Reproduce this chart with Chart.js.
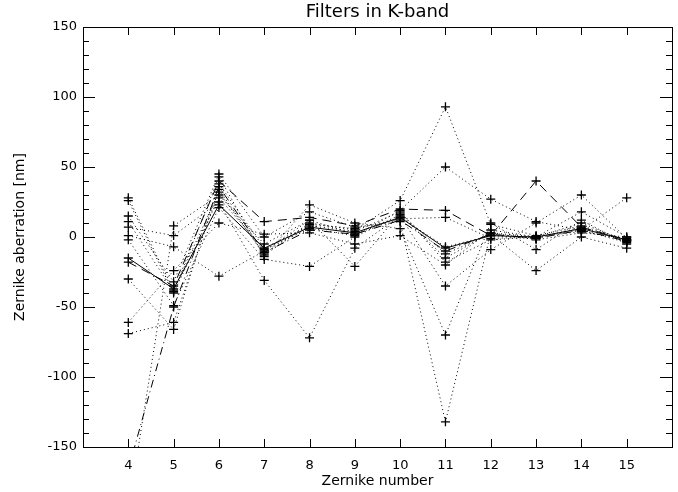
<!DOCTYPE html>
<html>
<head>
<meta charset="utf-8">
<script src="https://cdn.jsdelivr.net/npm/chart.js@4.4.1/dist/chart.umd.min.js"></script>
<style>
  html, body { margin: 0; padding: 0; background: #fff; }
  #wrap { width: 678px; height: 492px; }
</style>
</head>
<body>
<div id="wrap"><canvas id="chart" width="678" height="492"></canvas></div>
<script>
// Zernike numbers on the x axis
const zernike = [4, 5, 6, 7, 8, 9, 10, 11, 12, 13, 14, 15];
const xTickLabels = ['4', '5', '6', '7', '8', '9', '10', '11', '12', '13', '14', '15'];
const yTickValues = [-150, -100, -50, 0, 50, 100, 150];

// aberration per filter [nm], one array per filter, in order of zernike
const solidFilter   = [-15, -37, 23, -8, 7, 3, 14, -8, 1, 0, 6, -2];
const dashedFilter  = [-18, -35, 40, 11, 14, 8, 20, 19, 1, 40, 7, -2];
const dashDotFilter = [-166, -50, 36, -11, 5, 2, 12, -10, 2, -1, 5, -3];

const dotted1  = [28, -38, 32, -12, 10, 5, 26, 93, 9, 1, 8, -2];
const dotted2  = [26, -40, 28, -9, 6, 1, 19, 50, 27, 11, 5, -4];
const dotted3  = [15, -32, 45, 0, 18, 7, 11, -132, 3, -2, 3, 0];
const dotted4  = [11, -39, 43, -14, 23, 10, 6, -70, 10, -9, 12, -5];
const dotted5  = [7, 1, 25, -31, -72, -8, 15, -35, -9, 10, 30, -1];
const dotted6  = [1, -7, -28, -10, 12, -21, 17, -12, 2, -24, 0, -8];
const dotted7  = [-2, -49, 21, -16, -21, 0, 16, -15, 3, 0, 18, 0];
const dotted8  = [-30, -66, 38, -8, 8, 4, 18, -18, -2, 0, 5, 28];
const dotted9  = [-61, -24, 10, 2, 3, -5, 1, -20, 5, 0, 10, -3];
const dotted10 = [-69, -61, 34, -13, 9, 6, 13, 14, -1, 0, 4, -2];
const dotted11 = [-195, 8, 30, -5, 12, 2, 14, -7, 1, -1, 7, -3];

const FONT = 'DejaVu Sans';

function filterSet(values, dash) {
    return {
        data: zernike.map((n, i) => ({ x: n, y: values[i] })),
        xAxisID: 'x',
        yAxisID: 'y',
        borderColor: '#000',
        backgroundColor: '#000',
        borderWidth: 1,
        borderDash: dash,
        pointStyle: 'cross',
        pointRadius: 4.5,
        pointBorderWidth: 1.3,
        pointBorderColor: '#000',
        tension: 0,
        fill: false
    };
}

// IDL style box: frame plus inward ticks on all four sides
const boxAxes = {
    id: 'boxAxes',
    afterDatasetsDraw(chart) {
        const { ctx, chartArea: a, scales: { x, y } } = chart;
        ctx.save();
        ctx.strokeStyle = '#000';
        ctx.lineWidth = 1;
        ctx.beginPath();
        for (let v = -150; v <= 150; v += 10) {
            const py = Math.round(y.getPixelForValue(v)) + 0.5;
            const len = yTickValues.includes(v) ? 12 : 6;
            ctx.moveTo(a.left, py); ctx.lineTo(a.left + len, py);
            ctx.moveTo(a.right, py); ctx.lineTo(a.right - len, py);
        }
        zernike.forEach(n => {
            const px = Math.round(x.getPixelForValue(n)) + 0.5;
            ctx.moveTo(px, a.bottom); ctx.lineTo(px, a.bottom - 8);
            ctx.moveTo(px, a.top); ctx.lineTo(px, a.top + 8);
        });
        ctx.stroke();
        ctx.strokeRect(Math.round(a.left) + 0.5, Math.round(a.top) + 0.5,
            Math.round(a.right - a.left), Math.round(a.bottom - a.top));
        ctx.restore();
    }
};

const ctx = document.getElementById('chart').getContext('2d');
new Chart(ctx, {
    type: 'line',
    data: {
        datasets: [
            filterSet(dotted1, [1, 3]),
            filterSet(dotted2, [1, 3]),
            filterSet(dotted3, [1, 3]),
            filterSet(dotted4, [1, 3]),
            filterSet(dotted5, [1, 3]),
            filterSet(dotted6, [1, 3]),
            filterSet(dotted7, [1, 3]),
            filterSet(dotted8, [1, 3]),
            filterSet(dotted9, [1, 3]),
            filterSet(dotted10, [1, 3]),
            filterSet(dotted11, [1, 3]),
            filterSet(dashDotFilter, [8, 4, 1, 4]),
            filterSet(dashedFilter, [9, 6]),
            filterSet(solidFilter, [])
        ]
    },
    options: {
        responsive: false,
        animation: false,
        devicePixelRatio: 1,
        layout: { padding: 0 },
        plugins: {
            legend: { display: false },
            tooltip: { enabled: false },
            title: { display: false }
        },
        scales: {
            x: {
                type: 'linear',
                position: 'bottom',
                min: 3,
                max: 16,
                afterFit(scale) {
                    scale.height = 45;
                    scale.paddingLeft = 0;
                    scale.paddingRight = 6;
                },
                grid: { display: false, drawTicks: false },
                border: { display: false },
                ticks: {
                    stepSize: 1,
                    color: '#000',
                    padding: 11,
                    maxRotation: 0,
                    autoSkip: false,
                    font: { family: FONT, size: 13 },
                    callback(v) {
                        const i = zernike.indexOf(v);
                        return i >= 0 ? xTickLabels[i] : '';
                    }
                },
                title: {
                    display: true,
                    text: 'Zernike number',
                    color: '#000',
                    font: { family: FONT, size: 14 },
                    padding: { top: 0, bottom: 2 }
                }
            },
            // top axis only carries the plot title, centred over the plot box
            x2: {
                type: 'linear',
                position: 'top',
                min: 3,
                max: 16,
                afterFit(scale) {
                    scale.height = 27;
                    scale.paddingLeft = 0;
                    scale.paddingRight = 6;
                },
                grid: { display: false, drawTicks: false },
                border: { display: false },
                ticks: { display: false },
                title: {
                    display: true,
                    text: 'Filters in K-band',
                    color: '#000',
                    font: { family: FONT, size: 18 },
                    padding: { top: 1.5, bottom: 0 }
                }
            },
            y: {
                min: -150,
                max: 150,
                afterFit(scale) { scale.width = 83; },
                grid: { display: false, drawTicks: false },
                border: { display: false },
                ticks: {
                    stepSize: 50,
                    color: '#000',
                    padding: 6,
                    font: { family: FONT, size: 13 }
                },
                title: {
                    display: true,
                    text: 'Zernike aberration [nm]',
                    color: '#000',
                    font: { family: FONT, size: 14 },
                    padding: { top: 12, bottom: 0 }
                }
            }
        }
    },
    plugins: [boxAxes]
});
</script>
</body>
</html>
